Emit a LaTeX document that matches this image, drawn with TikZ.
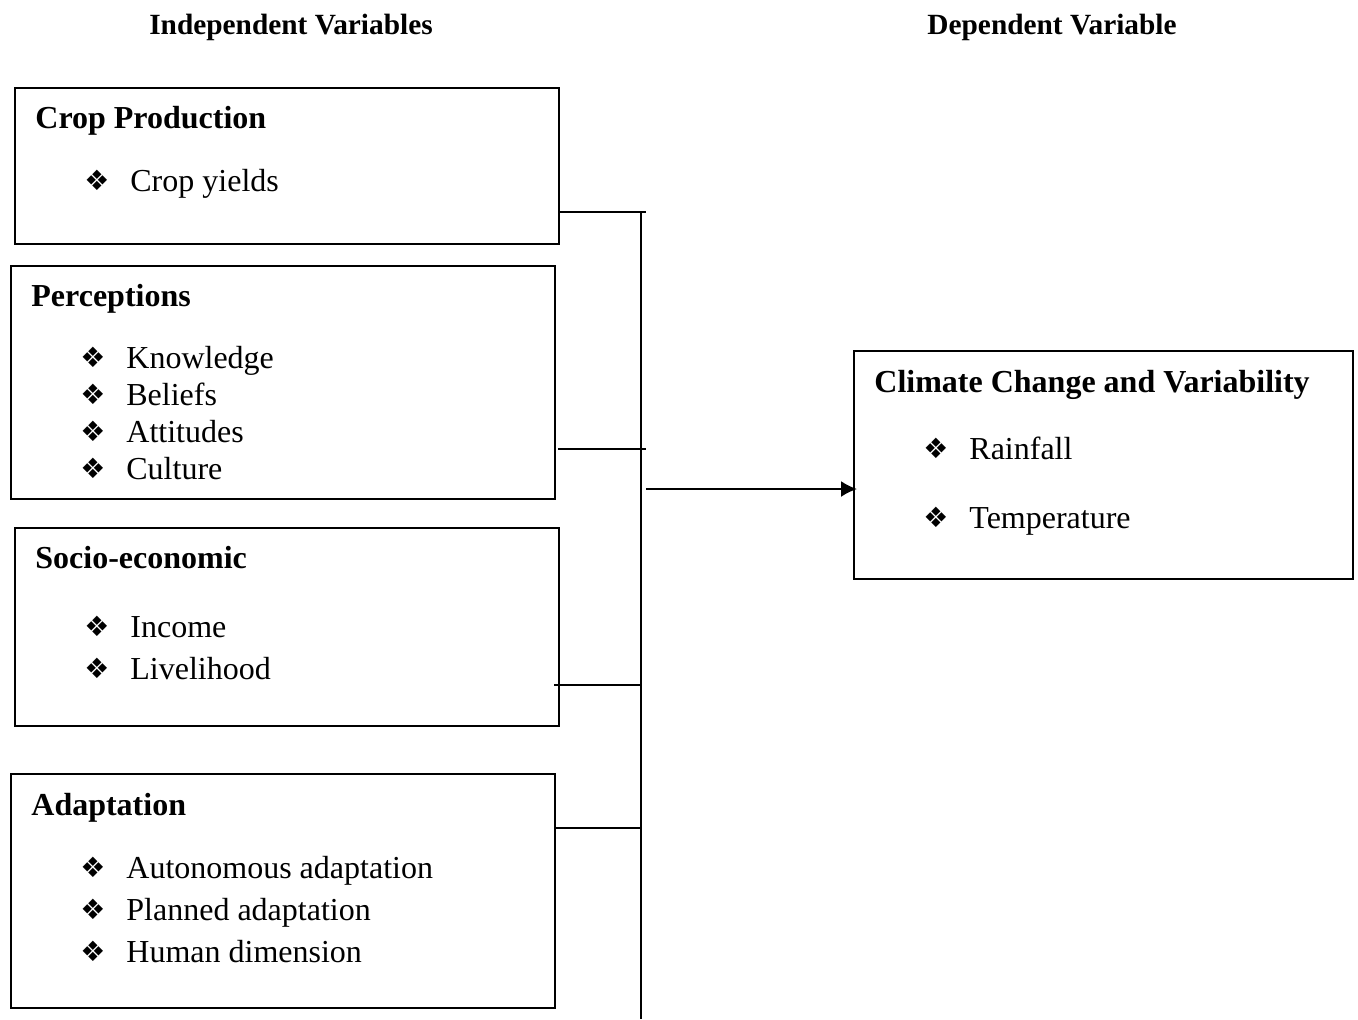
\documentclass[tikz,border=0pt]{standalone}
\usepackage{fontspec}
\setmainfont{Liberation Serif}
\newfontfamily\dvfont{DejaVu Sans}
\usetikzlibrary{arrows.meta}
\begin{document}
\begin{tikzpicture}[x=0.5pt,y=-0.5pt,
  box/.style={draw, line width=1pt, anchor=north west, inner sep=0pt},
  conn/.style={line width=1pt},
  hdr/.style={font=\fontsize{14.67}{17}\selectfont\bfseries, anchor=base, inner sep=0pt},
  ttl/.style={font=\fontsize{16}{19}\selectfont\bfseries, anchor=base west, inner sep=0pt},
  itm/.style={font=\fontsize{16}{19}\selectfont, anchor=base west, inner sep=0pt},
  bul/.style={font=\dvfont\fontsize{14}{16}\selectfont, anchor=base west, inner sep=0pt}]
\useasboundingbox (0,0) rectangle (1358,1019);
% headers
\node[hdr] (hind) at (291,34) {Independent Variables};
\node[hdr] (hdep) at (1052,34) {Dependent Variable};
% boxes
\node[box, minimum width=272pt, minimum height=78pt] (crop) at (14,87) {};
\node[box, minimum width=272pt, minimum height=116.5pt] (perc) at (10,265) {};
\node[box, minimum width=272pt, minimum height=99pt] (socio) at (14,527) {};
\node[box, minimum width=272pt, minimum height=117pt] (adapt) at (10,773) {};
\node[box, minimum width=249.5pt, minimum height=114pt] (clim) at (853,350) {};
% crop
\node[ttl] (t1) at (35,128) {Crop Production};
\node[bul] (b11) at (84,190) {❖};
\node[itm] (i11) at (130,191) {Crop yields};
% perceptions
\node[ttl] (t2) at (31,306) {Perceptions};
\foreach \y/\t [count=\k] in {368/Knowledge,405/Beliefs,442/Attitudes,479/Culture}{
  \node[bul] (b2\k) at (80,\y-1) {❖};
  \node[itm] (i2\k) at (126,\y) {\t};
}
% socio
\node[ttl] (t3) at (35,568) {Socio-economic};
\foreach \y/\t [count=\k] in {637/Income,679/Livelihood}{
  \node[bul] (b3\k) at (84,\y-1) {❖};
  \node[itm] (i3\k) at (130,\y) {\t};
}
% adaptation
\node[ttl] (t4) at (31,815) {Adaptation};
\foreach \y/\t [count=\k] in {878/Autonomous adaptation,920/Planned adaptation,962/Human dimension}{
  \node[bul] (b4\k) at (80,\y-1) {❖};
  \node[itm] (i4\k) at (126,\y) {\t};
}
% climate
\node[ttl] (t5) at (874,392) {Climate Change and Variability};
\foreach \y/\t [count=\k] in {459/Rainfall,528/Temperature}{
  \node[bul] (b5\k) at (923,\y-1) {❖};
  \node[itm] (i5\k) at (969,\y) {\t};
}
% connectors
\coordinate (bustop) at (641,212);
\coordinate (busbot) at (641,1019);
\coordinate (e1) at (646,212);
\coordinate (s2) at (558,449);
\coordinate (e2) at (646,449);
\coordinate (s3) at (554,685);
\coordinate (e3) at (641,685);
\coordinate (e4) at (641,828);
\coordinate (a0) at (646,489);
\draw[conn] (crop.east |- e1) -- (e1);
\draw[conn] (bustop) -- (busbot);
\draw[conn] (s2) -- (e2);
\draw[conn] (s3) -- (e3);
\draw[conn] (adapt.east |- e4) -- (e4);
\draw[conn, -{Latex[length=8pt,width=8pt]}] (a0) -- ([xshift=2pt]clim.west |- a0);
\end{tikzpicture}
\end{document}
